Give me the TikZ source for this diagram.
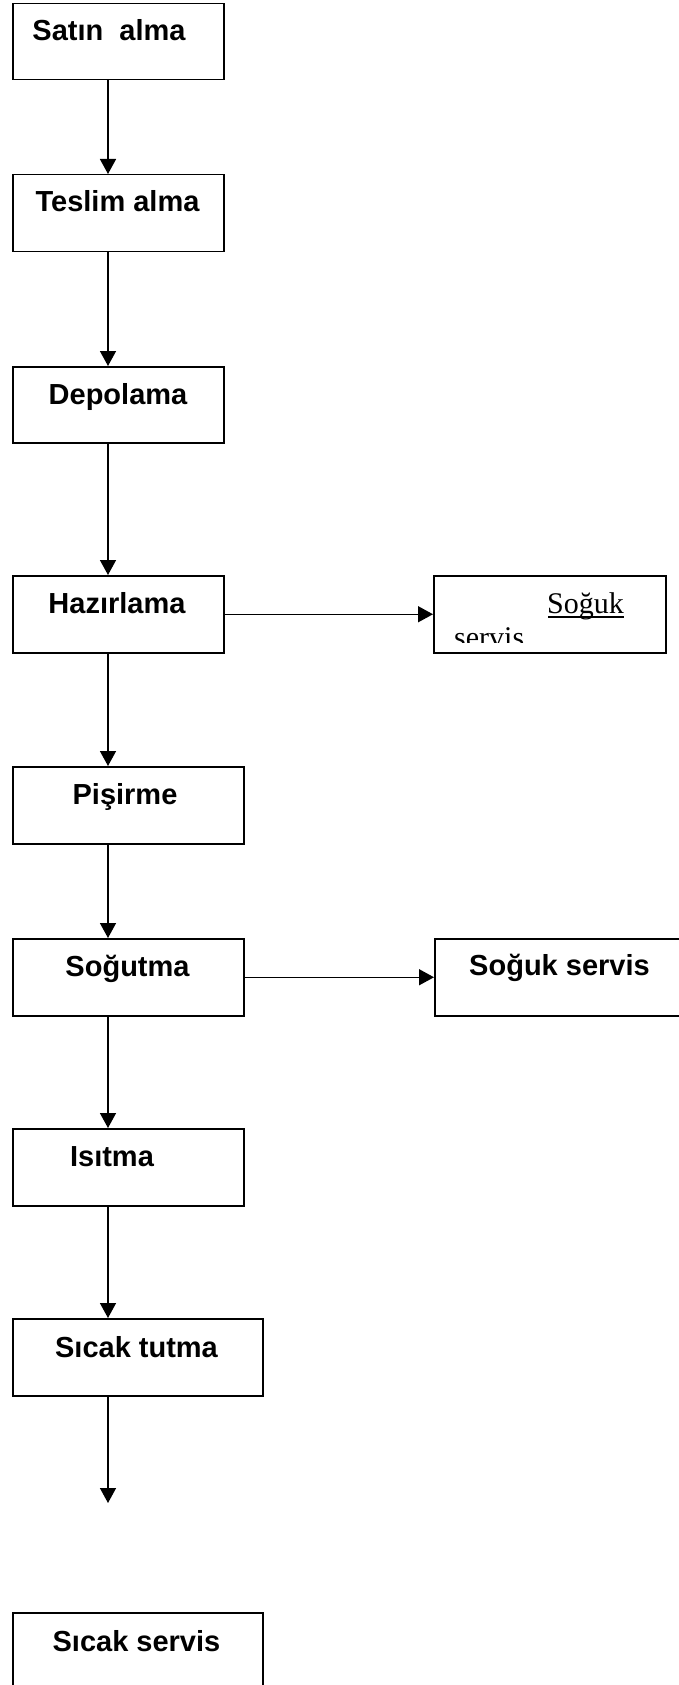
\documentclass[tikz,border=0pt]{standalone}
\usepackage{fontspec}
\setmainfont{Liberation Sans}
\newfontfamily\tnr{Liberation Serif}
\usetikzlibrary{arrows.meta,calc}
\begin{document}
\begin{tikzpicture}[x=1pt,y=-1pt,
  box/.style={draw, line width=1.5pt, rectangle, inner sep=0pt, anchor=north west},
  txt/.style={font=\fontsize{29}{33}\selectfont\bfseries, anchor=base, inner sep=0pt},
  stxt/.style={font=\tnr\fontsize{30}{34}\selectfont, anchor=base west, inner sep=0pt},
  conn/.style={line width=1.5pt, -{Triangle[width=16pt,length=15pt]}}]
\useasboundingbox (0,0) rectangle (678,1685);
\fill[white] (0,0) rectangle (678,1685);
% boxes
\node[box, minimum width=211pt, minimum height=76pt] (b1) at (12,3) {};
\node[box, minimum width=211pt, minimum height=77pt] (b2) at (12,174) {};
\node[box, minimum width=211pt, minimum height=76pt] (b3) at (12,366) {};
\node[box, minimum width=211pt, minimum height=77pt] (b4) at (12,575) {};
\node[box, minimum width=231pt, minimum height=77pt] (b5) at (12,766) {};
\node[box, minimum width=231pt, minimum height=77pt] (b6) at (12,938) {};
\node[box, minimum width=231pt, minimum height=77pt] (b7) at (12,1128) {};
\node[box, minimum width=250pt, minimum height=77pt] (b8) at (12,1318) {};
\node[box, minimum width=250pt, minimum height=90pt] (b9) at (12,1612) {};
\node[box, minimum width=232pt, minimum height=77pt] (s1) at (433,575) {};
\node[box, minimum width=256pt, minimum height=77pt] (s2) at (434,938) {};
% texts
\node[txt] (t1) at (109,41) {Satın\ \ alma};
\node[txt] (t2) at (117.5,212) {Teslim alma};
\node[txt] (t3) at (118,404) {Depolama};
\node[txt] (t4) at (117,613) {Hazırlama};
\node[txt] (t5) at (125,804) {Pişirme};
\node[txt] (t6) at (127.5,976) {Soğutma};
\node[txt] (t7) at (112,1166) {Isıtma};
\node[txt] (t8) at (136.5,1357) {Sıcak tutma};
\node[txt] (t9) at (136.5,1651) {Sıcak servis};
\node[txt] (u2) at (559.5,975) {Soğuk servis};
\begin{scope}
  \clip (434.5,576) rectangle (664,642);
  \node[stxt] (u1a) at (547,613) {Soğuk};
  \node[stxt] (u1b) at (454,647) {servis};
\end{scope}
\draw[line width=1.3pt] (u1a.base west) ++(1,4) -- ($(u1a.base east)+(0,4)$);
% connectors
\coordinate (ax) at (108,0);
\coordinate (endp) at (108,1503);
\draw[conn] (b1.south -| ax) -- (b2.north -| ax);
\draw[conn] (b2.south -| ax) -- (b3.north -| ax);
\draw[conn] (b3.south -| ax) -- (b4.north -| ax);
\draw[conn] (b4.south -| ax) -- (b5.north -| ax);
\draw[conn] (b5.south -| ax) -- (b6.north -| ax);
\draw[conn] (b6.south -| ax) -- (b7.north -| ax);
\draw[conn] (b7.south -| ax) -- (b8.north -| ax);
\draw[conn] (b8.south -| ax) -- (endp);
\draw[conn] (b4.east) -- (s1.west);
\draw[conn] (b6.east) -- (s2.west);
\end{tikzpicture}
\end{document}
